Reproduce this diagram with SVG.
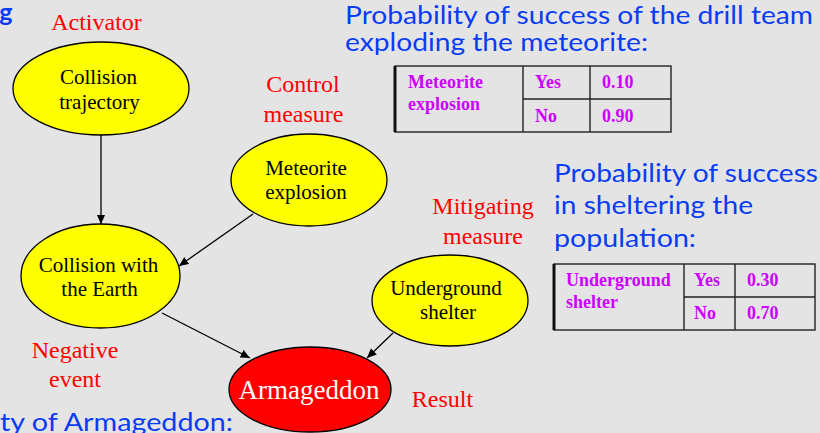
<svg xmlns="http://www.w3.org/2000/svg" width="820" height="433" viewBox="0 0 820 433">
  <defs>
    <marker id="arrow" markerUnits="userSpaceOnUse" markerWidth="10" markerHeight="9" refX="9.5" refY="4.25" orient="auto">
      <path d="M0,0 L9.5,4.25 L0,8.5 Z" fill="#000"/>
    </marker>
    <style>
      .bg { fill: #e4e4e4; }
      .node { fill: #ffff00; stroke: #000; stroke-width: 1.3; }
      .result { fill: #ff0000; stroke: #000; stroke-width: 1.3; }
      .nlabel { font-family: "Liberation Serif", "Times New Roman", serif; font-size: 21px; fill: #000; text-anchor: middle; }
      .rlabel { font-family: "Liberation Serif", "Times New Roman", serif; font-size: 27px; fill: #fff; text-anchor: middle; }
      .role { font-family: "Liberation Serif", "Times New Roman", serif; font-size: 24px; fill: #ff0000; text-anchor: middle; }
      .note { font-family: Lato, "Open Sans", "Liberation Sans", sans-serif; font-size: 25px; fill: #0a3cf5; }
      .cell { font-family: "Liberation Serif", "Times New Roman", serif; font-size: 18px; font-weight: bold; fill: #cc00ff; }
      .grid { stroke: #222; stroke-width: 1.4; fill: none; }
      .edge { stroke: #000; stroke-width: 1.3; fill: none; marker-end: url(#arrow); }
    </style>
  </defs>

  <rect class="bg" x="0" y="0" width="820" height="433"/>

  <!-- slide text clipped at the edges -->
  <text class="note" x="12.5" y="21" text-anchor="end" font-weight="bold" font-size="27">g</text>
  <text class="note" x="233" y="431" text-anchor="end" textLength="233" lengthAdjust="spacingAndGlyphs">ty of Armageddon:</text>

  <!-- notes on the probabilities -->
  <text class="note" x="345" y="23.5" textLength="468" lengthAdjust="spacingAndGlyphs">Probability of success of the drill team</text>
  <text class="note" x="345" y="51" textLength="303" lengthAdjust="spacingAndGlyphs">exploding the meteorite:</text>

  <text class="note" x="554" y="182" textLength="264" lengthAdjust="spacingAndGlyphs">Probability of success</text>
  <text class="note" x="554" y="214" textLength="199" lengthAdjust="spacingAndGlyphs">in sheltering the</text>
  <text class="note" x="554" y="246.5" textLength="142" lengthAdjust="spacingAndGlyphs">population:</text>

  <!-- probability table: meteorite explosion -->
  <g id="table-explosion">
    <rect class="grid" x="395" y="66" width="276" height="66"/>
    <line x1="395" y1="66" x2="395" y2="132" stroke="#111" stroke-width="3"/>
    <line class="grid" x1="523" y1="66" x2="523" y2="132"/>
    <line class="grid" x1="590" y1="66" x2="590" y2="132"/>
    <line class="grid" x1="523" y1="99" x2="671" y2="99"/>
    <text class="cell" x="408" y="88">Meteorite</text>
    <text class="cell" x="408" y="110">explosion</text>
    <text class="cell" x="535" y="88">Yes</text>
    <text class="cell" x="535" y="121.5">No</text>
    <text class="cell" x="602" y="88">0.10</text>
    <text class="cell" x="602" y="121.5">0.90</text>
  </g>

  <!-- probability table: underground shelter -->
  <g id="table-shelter">
    <rect class="grid" x="554" y="264" width="261" height="66"/>
    <line x1="554" y1="264" x2="554" y2="330" stroke="#111" stroke-width="3"/>
    <line class="grid" x1="684" y1="264" x2="684" y2="330"/>
    <line class="grid" x1="735" y1="264" x2="735" y2="330"/>
    <line class="grid" x1="684" y1="297" x2="815" y2="297"/>
    <text class="cell" x="566" y="286">Underground</text>
    <text class="cell" x="566" y="308">shelter</text>
    <text class="cell" x="694" y="286">Yes</text>
    <text class="cell" x="694" y="319">No</text>
    <text class="cell" x="747" y="286">0.30</text>
    <text class="cell" x="747" y="319">0.70</text>
  </g>

  <!-- role labels -->
  <text class="role" x="96.5" y="30">Activator</text>
  <text class="role" x="303" y="92">Control</text>
  <text class="role" x="303.5" y="122">measure</text>
  <text class="role" x="483" y="214">Mitigating</text>
  <text class="role" x="483" y="244">measure</text>
  <text class="role" x="75" y="358">Negative</text>
  <text class="role" x="75" y="387">event</text>
  <text class="role" x="442.5" y="407">Result</text>

  <!-- connectors -->
  <g id="edges">
    <line class="edge" x1="101" y1="135" x2="101" y2="224"/>
    <line class="edge" x1="253" y1="214" x2="179" y2="266"/>
    <line class="edge" x1="162" y1="313" x2="250" y2="358"/>
    <line class="edge" x1="393" y1="333" x2="367" y2="358"/>
  </g>

  <!-- nodes -->
  <g id="collision-trajectory">
    <ellipse class="node" cx="101" cy="88.5" rx="88" ry="46.5"/>
    <text class="nlabel" x="98.5" y="83.5">Collision</text>
    <text class="nlabel" x="99.5" y="108.5">trajectory</text>
  </g>
  <g id="meteorite-explosion">
    <ellipse class="node" cx="309" cy="180" rx="78" ry="46"/>
    <text class="nlabel" x="306" y="175">Meteorite</text>
    <text class="nlabel" x="306" y="198.5">explosion</text>
  </g>
  <g id="collision-earth">
    <ellipse class="node" cx="100.5" cy="276" rx="79.5" ry="52"/>
    <text class="nlabel" x="98.5" y="272">Collision with</text>
    <text class="nlabel" x="99.5" y="296">the Earth</text>
  </g>
  <g id="underground-shelter">
    <ellipse class="node" cx="450" cy="300.5" rx="78" ry="45.5"/>
    <text class="nlabel" x="446" y="295">Underground</text>
    <text class="nlabel" x="448" y="319">shelter</text>
  </g>
  <g id="armageddon">
    <ellipse class="result" cx="310" cy="389.5" rx="81" ry="42.5"/>
    <text class="rlabel" x="309" y="399">Armageddon</text>
  </g>
</svg>
